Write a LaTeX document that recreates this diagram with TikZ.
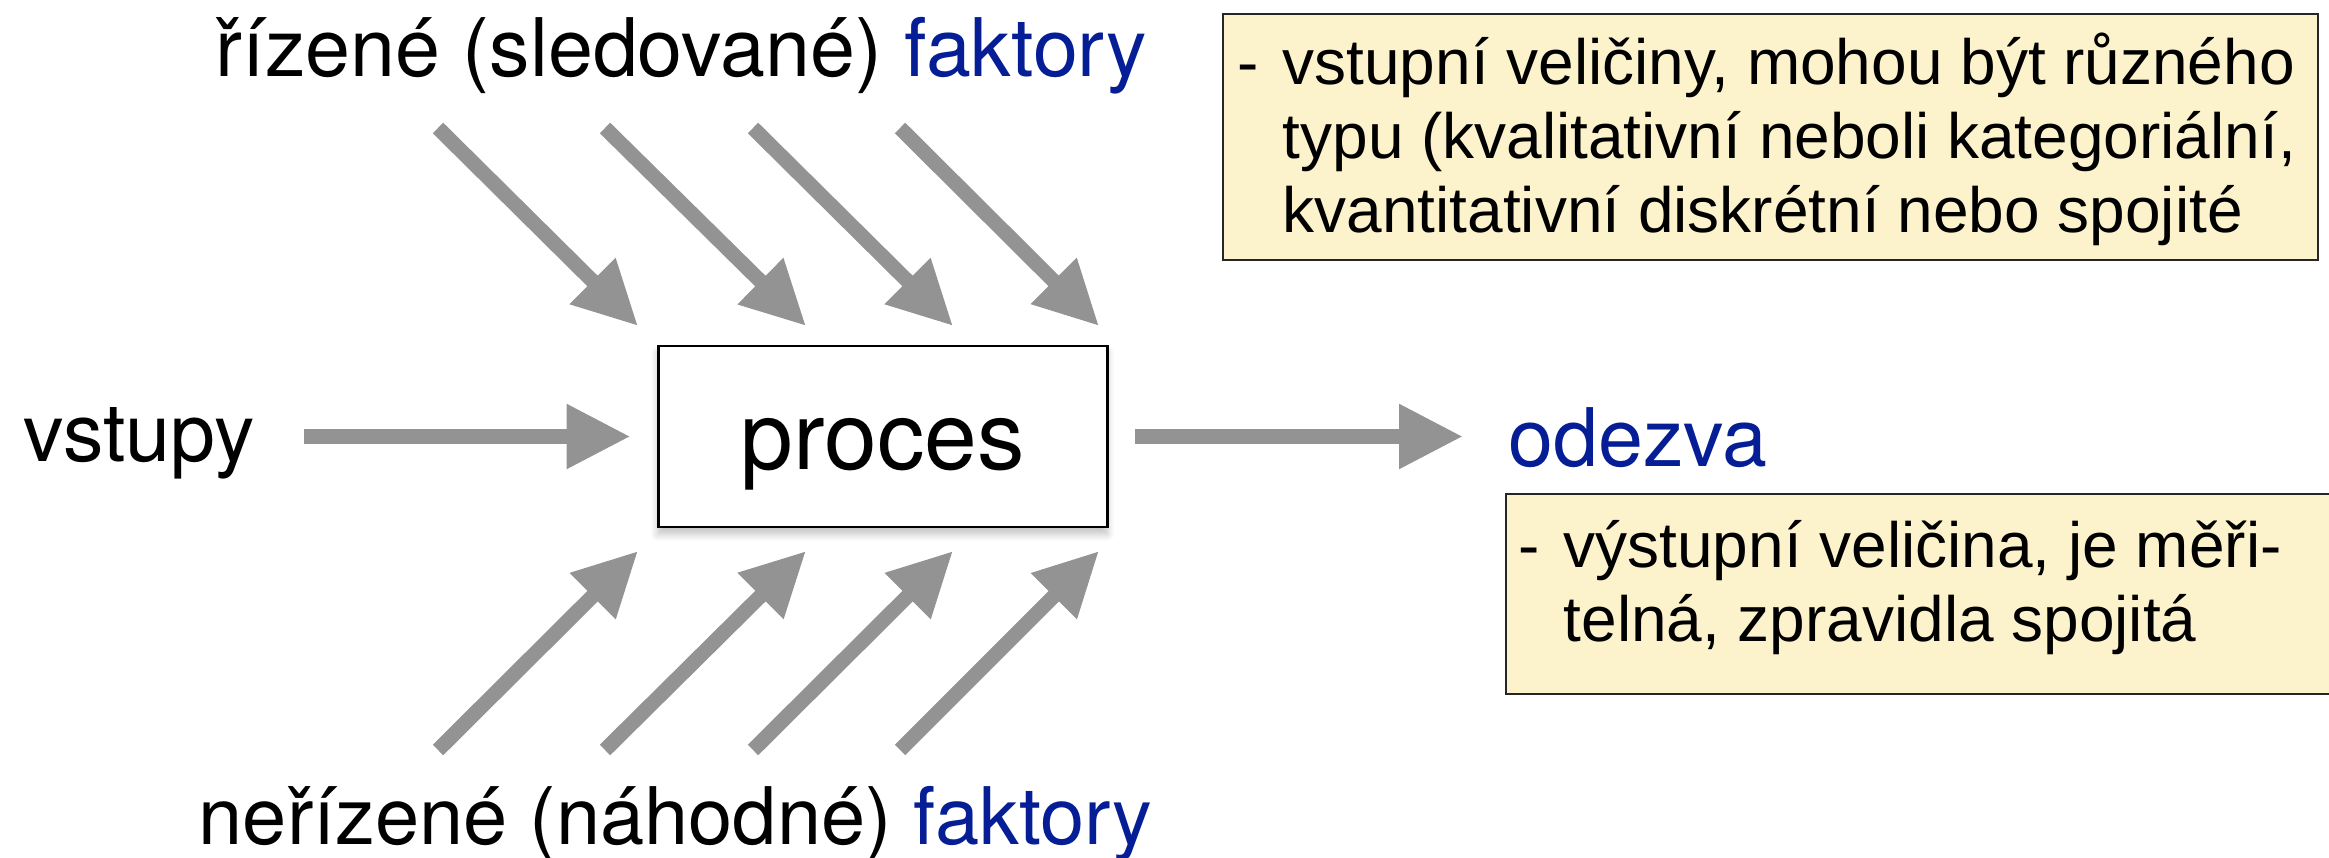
\documentclass[tikz,border=0pt]{standalone}
\usepackage{fontspec}
\setmainfont{TeX Gyre Heros}
\newfontfamily\notefont{Liberation Sans}
\usetikzlibrary{arrows.meta,shadows.blur}
\definecolor{arrowgray}{RGB}{147,147,147}
\definecolor{factorblue}{RGB}{5,30,150}
\definecolor{noteyellow}{RGB}{252,243,205}

\begin{document}
\begin{tikzpicture}[
  bigarrow/.style={draw=arrowgray, line width=0.148cm, -{Triangle[length=0.64cm,width=0.61cm]}},
  bigtext/.style={inner sep=0pt, anchor=base west, font=\fontsize{23}{27}\selectfont},
  notebox/.style={draw=black!85, line width=0.7pt, fill=noteyellow, inner sep=0pt, anchor=north west},
  notetext/.style={inner sep=0pt, anchor=base west, font=\notefont\fontsize{18.2}{21}\selectfont}
]
\useasboundingbox (0,0) rectangle (23.29,8.57);

% proces a popisky
\node[draw, line width=0.85pt, fill=white, minimum width=4.49cm, minimum height=1.81cm,
  inner sep=0pt, text height=0.67cm, text depth=0cm, font=\fontsize{27}{32}\selectfont,
  blur shadow={shadow xshift=0pt, shadow yshift=-0.07cm, shadow blur steps=10, shadow opacity=25}]
  (proc) at (8.825,4.205) {proces};
\node[bigtext] (in) at (0.23,3.95) {vstupy};
\node[bigtext, text=factorblue] (odz) at (15.08,3.90) {odezva};
\node[bigtext] (rf) at (2.15,7.80) {řízené (sledované) \textcolor{factorblue}{faktory}};
\node[bigtext, font=\fontsize{22.6}{27}\selectfont] (nf) at (1.98,0.13) {neřízené (náhodné) \textcolor{factorblue}{faktory}};

% vstup a odezva
\draw[bigarrow, shorten <=0.48cm, shorten >=0.26cm] (in.east |- proc.west) -- (proc.west);
\draw[bigarrow, shorten <=0.26cm, shorten >=0.45cm] (proc.east) -- (proc.east -| odz.west);

% faktory
\foreach \a/\b [count=\i] in {4.38/6.38, 6.05/8.06, 7.53/9.53, 9.00/10.99} {
  \coordinate (rt\i) at (\a,7.29);
  \coordinate (rh\i) at (\b,5.31);
  \draw[bigarrow] (rt\i) -- (rh\i);
  \coordinate (nt\i) at (\a,1.07);
  \coordinate (nh\i) at (\b,3.06);
  \draw[bigarrow] (nt\i) -- (nh\i);
}

% poznamky
\node[notebox, minimum width=10.95cm, minimum height=2.46cm] (note1) at (12.22,8.44) {};
\node[notetext] (t1) at ([xshift=0.15cm,yshift=-0.72cm]note1.north west)
  {\begin{tabular}[t]{@{}p{0.45cm}@{}l@{}}
   - & vstupní veličiny, mohou být různého\\
     & typu (kvalitativní neboli kategoriální,\\
     & kvantitativní diskrétní nebo spojité
   \end{tabular}};
\node[notebox, minimum width=8.5cm, minimum height=2.00cm] (note2) at (15.05,3.64) {};
\node[notetext] (t2) at ([xshift=0.13cm,yshift=-0.75cm]note2.north west)
  {\begin{tabular}[t]{@{}p{0.45cm}@{}l@{}}
   - & výstupní veličina, je měři-\\
     & telná, zpravidla spojitá
   \end{tabular}};
\end{tikzpicture}
\end{document}
